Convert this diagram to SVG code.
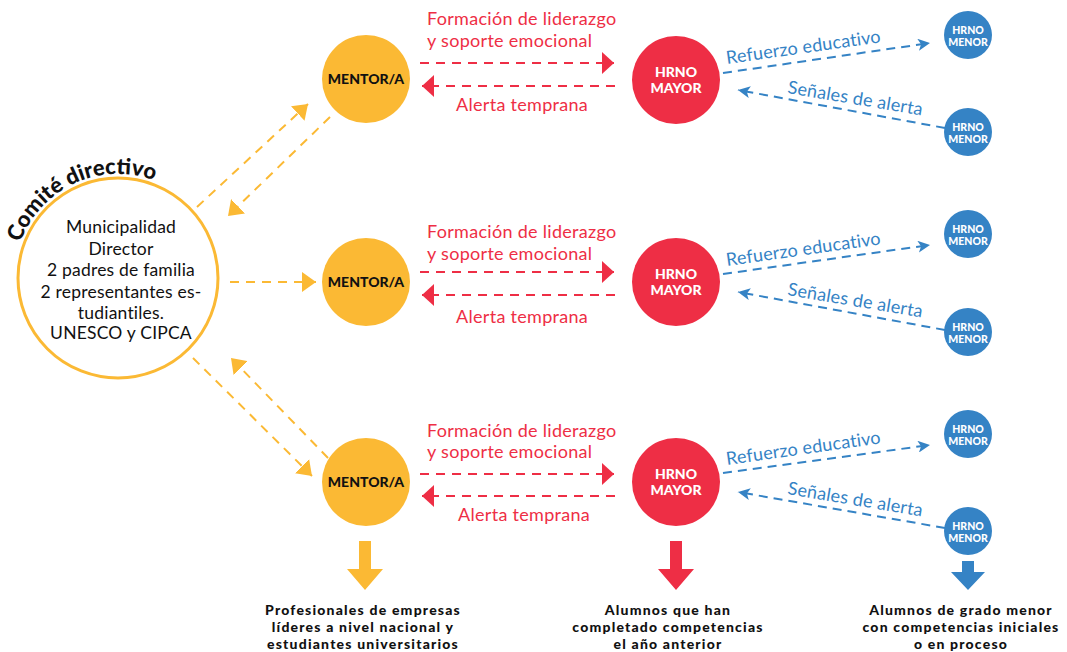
<svg xmlns="http://www.w3.org/2000/svg" width="1067" height="652" viewBox="0 0 1067 652">
<style>
.or{fill:#FBB934}.rd{fill:#EE2E45}.bl{fill:#3583C5}
.lo{fill:none;stroke:#FBB934;stroke-width:2;stroke-dasharray:9 7}
.lr{fill:none;stroke:#EE2E45;stroke-width:2.2;stroke-dasharray:9 7}
.lb{fill:none;stroke:#3583C5;stroke-width:2;stroke-dasharray:9 6}
.t{font-family:Lato,"Open Sans",sans-serif}
.rt{font-family:Lato,sans-serif;font-size:18px;letter-spacing:0.3px;fill:#EE2E45}
.bt{font-family:Lato,sans-serif;font-size:18px;letter-spacing:0.2px;fill:#3583C5}
.mt{font-family:Lato,sans-serif;font-weight:900;font-size:14px;fill:#111;text-anchor:middle}
.my{font-family:Lato,sans-serif;font-weight:900;font-size:14px;fill:#fff;text-anchor:middle}
.mn{font-family:Lato,sans-serif;font-weight:900;font-size:10.5px;fill:#fff;text-anchor:middle}
.ct{font-family:Lato,sans-serif;font-size:17.5px;letter-spacing:0.2px;fill:#111;text-anchor:middle}
.ft{font-family:Lato,sans-serif;font-weight:900;font-size:14px;letter-spacing:1.2px;fill:#111;text-anchor:middle}
</style>
<defs>
<marker id="ao" markerUnits="userSpaceOnUse" markerWidth="14" markerHeight="20" refX="14" refY="10" orient="auto"><path d="M0,0 L14,10 L0,20 z" fill="#FBB934"/></marker>
<marker id="ar" markerUnits="userSpaceOnUse" markerWidth="12" markerHeight="22" refX="12" refY="11" orient="auto"><path d="M0,0 L12,11 L0,22 z" fill="#EE2E45"/></marker>
<marker id="ab" markerUnits="userSpaceOnUse" markerWidth="12" markerHeight="12" refX="12" refY="6" orient="auto"><path d="M0,0 L12,6 L0,12 L3,6 z" fill="#3583C5"/></marker>
<path id="arcC" d="M17.5,251.1 A104,104 0 0 1 184.8,198.3"/>
</defs>

<g id="connectors">
<line class="lo" x1="197" y1="207" x2="308" y2="104" marker-end="url(#ao)"/>
<line class="lo" x1="330" y1="117" x2="228" y2="216" marker-end="url(#ao)"/>
<line class="lo" x1="230" y1="282" x2="316" y2="282" marker-end="url(#ao)"/>
<line class="lo" x1="193" y1="358" x2="312" y2="476" marker-end="url(#ao)"/>
<line class="lo" x1="328" y1="458" x2="231" y2="358" marker-end="url(#ao)"/>

<line class="lr" x1="420" y1="63" x2="614" y2="63" marker-end="url(#ar)"/>
<line class="lr" x1="615" y1="86" x2="422" y2="86" marker-end="url(#ar)"/>
<line class="lr" x1="420" y1="272" x2="614" y2="272" marker-end="url(#ar)"/>
<line class="lr" x1="615" y1="295" x2="422" y2="295" marker-end="url(#ar)"/>
<line class="lr" x1="420" y1="474" x2="614" y2="474" marker-end="url(#ar)"/>
<line class="lr" x1="615" y1="496" x2="422" y2="496" marker-end="url(#ar)"/>

<line class="lb" x1="723" y1="73" x2="930" y2="43" marker-end="url(#ab)"/>
<line class="lb" x1="945" y1="128" x2="738" y2="90" marker-end="url(#ab)"/>
<line class="lb" x1="723" y1="274" x2="930" y2="245" marker-end="url(#ab)"/>
<line class="lb" x1="945" y1="330" x2="738" y2="292" marker-end="url(#ab)"/>
<line class="lb" x1="723" y1="473" x2="930" y2="445" marker-end="url(#ab)"/>
<line class="lb" x1="945" y1="528" x2="738" y2="492" marker-end="url(#ab)"/>

<path class="or" d="M359,541 H371 V569 H383 L365,590 L347,569 H359 Z"/>
<path class="rd" d="M670,541 H682 V569 H694 L676,590 L658,569 H670 Z"/>
<path class="bl" d="M962,561 H974 V572 H985 L968,590 L951,572 H962 Z"/>
</g>

<g id="labels">
<text class="rt" x="427" y="25">Formación de liderazgo</text>
<text class="rt" x="427" y="47">y soporte emocional</text>
<text class="rt" x="456" y="111">Alerta temprana</text>
<text class="rt" x="427" y="238">Formación de liderazgo</text>
<text class="rt" x="427" y="260">y soporte emocional</text>
<text class="rt" x="456" y="323">Alerta temprana</text>
<text class="rt" x="427" y="437">Formación de liderazgo</text>
<text class="rt" x="427" y="458">y soporte emocional</text>
<text class="rt" x="458" y="521">Alerta temprana</text>

<text class="bt" x="727" y="64" transform="rotate(-8 727 64)">Refuerzo educativo</text>
<text class="bt" x="787" y="93" transform="rotate(9.5 787 93)">Señales de alerta</text>
<text class="bt" x="727" y="266" transform="rotate(-8 727 266)">Refuerzo educativo</text>
<text class="bt" x="787" y="295" transform="rotate(9.5 787 295)">Señales de alerta</text>
<text class="bt" x="727" y="465" transform="rotate(-8 727 465)">Refuerzo educativo</text>
<text class="bt" x="787" y="494" transform="rotate(9.5 787 494)">Señales de alerta</text>

<text class="ft" x="363" y="615">Profesionales de empresas</text>
<text class="ft" x="363" y="632">líderes a nivel nacional y</text>
<text class="ft" x="363" y="649">estudiantes universitarios</text>
<text class="ft" x="668" y="615">Alumnos que han</text>
<text class="ft" x="668" y="632">completado competencias</text>
<text class="ft" x="668" y="649">el año anterior</text>
<text class="ft" x="961" y="615">Alumnos de grado menor</text>
<text class="ft" x="961" y="632">con competencias iniciales</text>
<text class="ft" x="961" y="649">o en proceso</text>
</g>

<g id="comite">
<circle cx="118" cy="278" r="100" fill="#fff" stroke="#FBB934" stroke-width="3"/>
<text class="t" font-size="22" font-weight="900" fill="#111"><textPath href="#arcC" startOffset="9">Comité directivo</textPath></text>
<text class="ct" x="121" y="233">Municipalidad</text>
<text class="ct" x="121" y="255">Director</text>
<text class="ct" x="121" y="276">2 padres de familia</text>
<text class="ct" x="121" y="298">2 representantes es-</text>
<text class="ct" x="121" y="319">tudiantiles.</text>
<text class="ct" x="121" y="339">UNESCO y CIPCA</text>
</g>

<g id="mentor1"><circle class="or" cx="366" cy="79" r="44"/><text class="mt" x="366" y="84">MENTOR/A</text></g>
<g id="mentor2"><circle class="or" cx="366" cy="282" r="44"/><text class="mt" x="366" y="287">MENTOR/A</text></g>
<g id="mentor3"><circle class="or" cx="366" cy="482" r="44"/><text class="mt" x="366" y="487">MENTOR/A</text></g>

<g id="mayor1"><circle class="rd" cx="676" cy="80" r="44"/><text class="my" x="676" y="77">HRNO</text><text class="my" x="676" y="93">MAYOR</text></g>
<g id="mayor2"><circle class="rd" cx="676" cy="282" r="44"/><text class="my" x="676" y="279">HRNO</text><text class="my" x="676" y="295">MAYOR</text></g>
<g id="mayor3"><circle class="rd" cx="676" cy="482" r="44"/><text class="my" x="676" y="479">HRNO</text><text class="my" x="676" y="495">MAYOR</text></g>

<g id="menor1a"><circle class="bl" cx="968" cy="35" r="24"/><text class="mn" x="968" y="34">HRNO</text><text class="mn" x="968" y="46">MENOR</text></g>
<g id="menor1b"><circle class="bl" cx="968" cy="132" r="24"/><text class="mn" x="968" y="131">HRNO</text><text class="mn" x="968" y="143">MENOR</text></g>
<g id="menor2a"><circle class="bl" cx="968" cy="234" r="24"/><text class="mn" x="968" y="233">HRNO</text><text class="mn" x="968" y="245">MENOR</text></g>
<g id="menor2b"><circle class="bl" cx="968" cy="332" r="24"/><text class="mn" x="968" y="331">HRNO</text><text class="mn" x="968" y="343">MENOR</text></g>
<g id="menor3a"><circle class="bl" cx="968" cy="434" r="24"/><text class="mn" x="968" y="433">HRNO</text><text class="mn" x="968" y="445">MENOR</text></g>
<g id="menor3b"><circle class="bl" cx="968" cy="531" r="24"/><text class="mn" x="968" y="530">HRNO</text><text class="mn" x="968" y="542">MENOR</text></g>
</svg>
